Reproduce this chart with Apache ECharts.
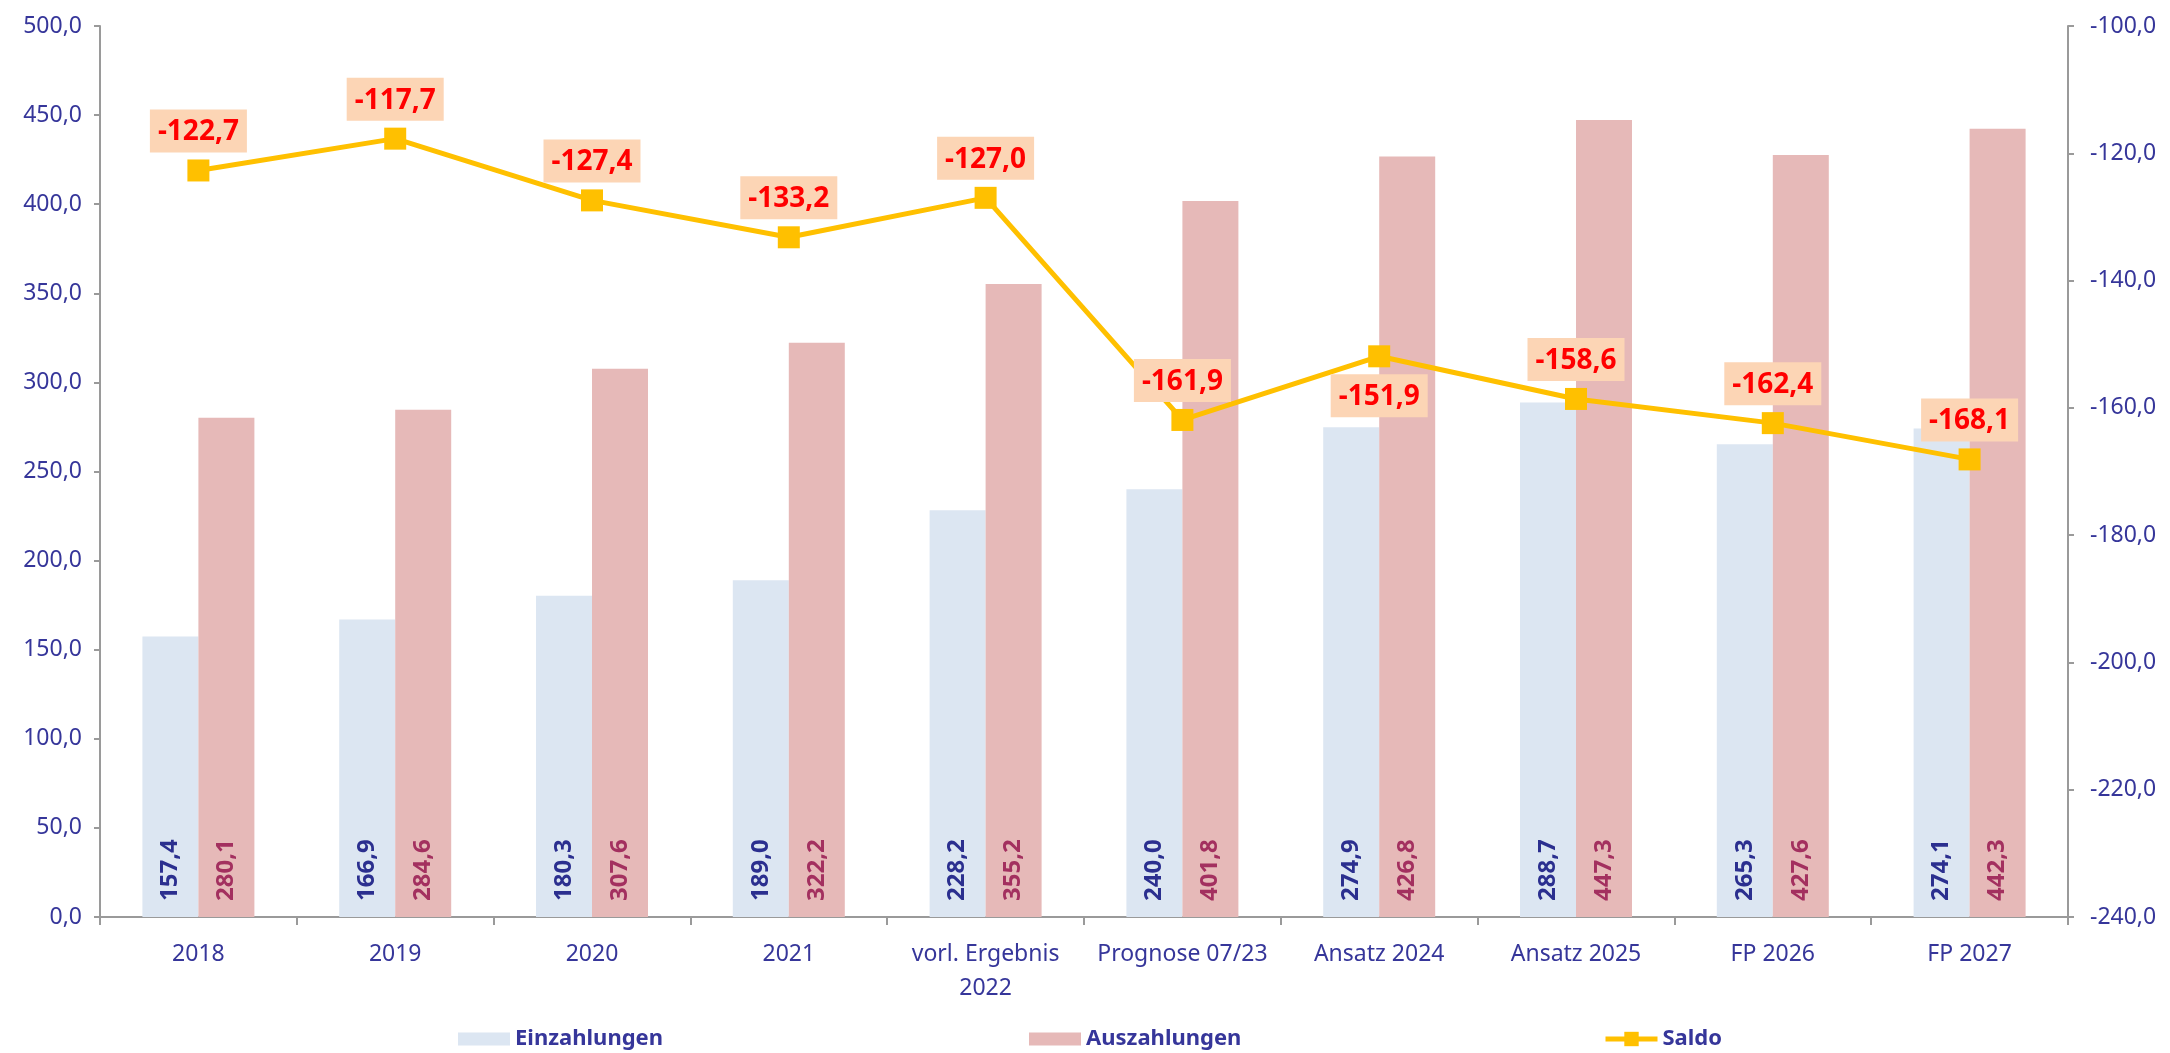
<!DOCTYPE html>
<html>
<head>
<meta charset="utf-8">
<script src="https://cdn.jsdelivr.net/npm/echarts@6/dist/echarts.min.js"></script>
<style>
html,body{margin:0;padding:0;background:#fff;}
#c{width:2170px;height:1053px;}
</style>
</head>
<body>
<div id="c"></div>
<script>
const categories = ['2018','2019','2020','2021','vorl. Ergebnis\n2022','Prognose 07/23','Ansatz 2024','Ansatz 2025','FP 2026','FP 2027'];
const einzahlungen = [157.4,166.9,180.3,189.0,228.2,240.0,274.9,288.7,265.3,274.1];
const auszahlungen = [280.1,284.6,307.6,322.2,355.2,401.8,426.8,447.3,427.6,442.3];
const saldo = [-122.7,-117.7,-127.4,-133.2,-127.0,-161.9,-151.9,-158.6,-162.4,-168.1];
const saldoLabelPos = ['top','top','top','top','top','top','bottom','top','top','top'];

const FONT = '"Noto Sans", sans-serif';
const AXIS_COLOR = '#36369a';
const fmt = v => v.toFixed(1).replace('.', ',');

const chart = echarts.init(document.getElementById('c'));
chart.setOption({
  backgroundColor: '#ffffff',
  animation: false,
  textStyle: { fontFamily: FONT },
  grid: { left: 100, right: 102, top: 26, bottom: 136, containLabel: false },
  legend: [
    { left: 453, top: 1023, itemWidth: 52, itemHeight: 13, itemGap: 6, icon: 'rect',
      textStyle: { fontFamily: FONT, fontSize: 22, fontWeight: 'bold', color: AXIS_COLOR },
      data: ['Einzahlungen'] },
    { left: 1024, top: 1023, itemWidth: 52, itemHeight: 13, itemGap: 6, icon: 'rect',
      textStyle: { fontFamily: FONT, fontSize: 22, fontWeight: 'bold', color: AXIS_COLOR },
      data: ['Auszahlungen'] },
    { left: 1598, top: 1023, itemWidth: 52, itemHeight: 18, itemGap: 6,
      lineStyle: { width: 5 },
      textStyle: { fontFamily: FONT, fontSize: 22, fontWeight: 'bold', color: AXIS_COLOR },
      data: ['Saldo'] }
  ],
  xAxis: {
    type: 'category',
    data: categories,
    axisLine: { lineStyle: { color: '#9a9a9a', width: 2 } },
    axisTick: { show: true, length: 8, lineStyle: { color: '#9a9a9a', width: 2 } },
    axisLabel: { fontFamily: FONT, fontSize: 23, color: AXIS_COLOR, margin: 20, lineHeight: 34, interval: 0 }
  },
  yAxis: [
    {
      type: 'value', min: 0, max: 500, interval: 50, position: 'left',
      splitLine: { show: false },
      axisLine: { show: true, lineStyle: { color: '#9a9a9a', width: 2 } },
      axisTick: { show: true, length: 6, lineStyle: { color: '#9a9a9a', width: 2 } },
      axisLabel: { fontFamily: FONT, fontSize: 23, color: AXIS_COLOR, margin: 18, formatter: v => fmt(v) }
    },
    {
      type: 'value', min: -240, max: -100, interval: 20, position: 'right',
      splitLine: { show: false },
      axisLine: { show: true, lineStyle: { color: '#9a9a9a', width: 2 } },
      axisTick: { show: true, length: 6, lineStyle: { color: '#9a9a9a', width: 2 } },
      axisLabel: { fontFamily: FONT, fontSize: 23, color: AXIS_COLOR, margin: 22, formatter: v => fmt(v) }
    }
  ],
  series: [
    {
      name: 'Einzahlungen', type: 'bar', data: einzahlungen, yAxisIndex: 0,
      barWidth: 56, barGap: '0%',
      itemStyle: { color: '#dce6f2' },
      label: { show: true, position: 'insideBottom', rotate: 90, align: 'left', verticalAlign: 'middle',
        distance: 16, fontFamily: FONT, fontSize: 24, fontWeight: 'bold', color: '#2b2f8f', formatter: p => fmt(p.value) }
    },
    {
      name: 'Auszahlungen', type: 'bar', data: auszahlungen, yAxisIndex: 0,
      barWidth: 56, barGap: '0%',
      itemStyle: { color: '#e6b9b8' },
      label: { show: true, position: 'insideBottom', rotate: 90, align: 'left', verticalAlign: 'middle',
        distance: 16, fontFamily: FONT, fontSize: 24, fontWeight: 'bold', color: '#a3305f', formatter: p => fmt(p.value) }
    },
    {
      name: 'Saldo', type: 'line', yAxisIndex: 1, z: 5,
      data: saldo.map((v, i) => ({ value: v, label: { position: saldoLabelPos[i] } })),
      symbol: 'rect', symbolSize: 22,
      lineStyle: { color: '#ffc000', width: 5 },
      itemStyle: { color: '#ffc000' },
      label: { show: true, distance: 7, fontFamily: FONT, fontSize: 28, fontWeight: 'bold', color: '#ff0000',
        backgroundColor: '#fcd5b5', padding: [9, 8, 6, 8], formatter: p => fmt(p.value) }
    }
  ]
});
</script>
</body>
</html>
